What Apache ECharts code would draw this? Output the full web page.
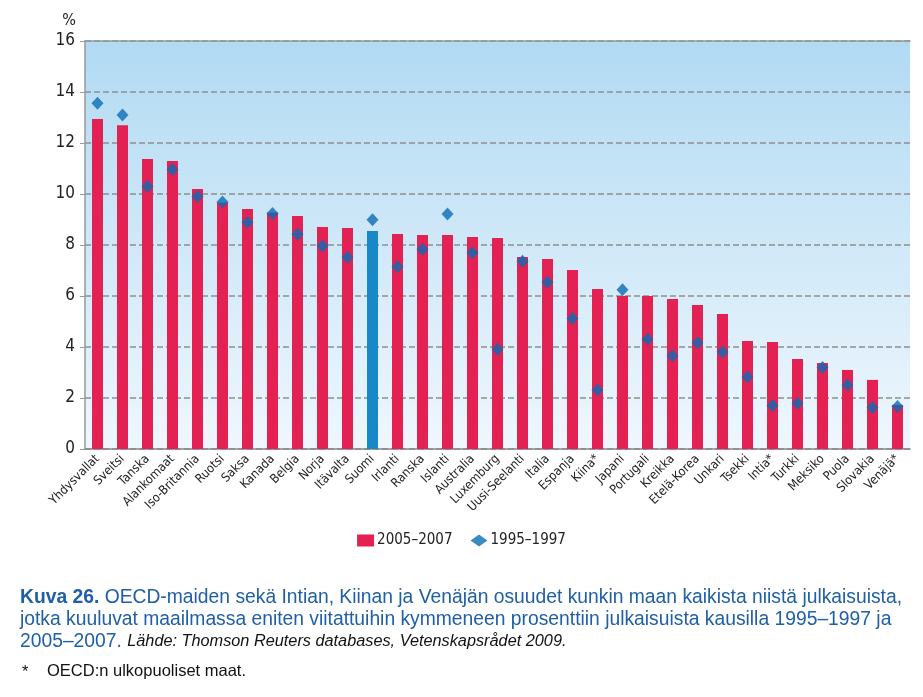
<!DOCTYPE html>
<html>
<head>
<meta charset="utf-8">
<script src="https://cdn.jsdelivr.net/npm/echarts@6/dist/echarts.min.js"></script>
<style>
html,body{margin:0;padding:0;background:#fff;}
#c{width:923px;height:697px;}
</style>
</head>
<body>
<div id="c"></div>
<script>
const categories = ["Yhdysvallat","Sveitsi","Tanska","Alankomaat","Iso-Britannia","Ruotsi","Saksa","Kanada","Belgia","Norja","Itävalta","Suomi","Irlanti","Ranska","Islanti","Australia","Luxemburg","Uusi-Seelanti","Italia","Espanja","Kiina*","Japani","Portugali","Kreikka","Etelä-Korea","Unkari","Tsekki","Intia*","Turkki","Meksiko","Puola","Slovakia","Venäjä*"];
const values2005 = [12.94,12.7,11.37,11.29,10.2,9.67,9.41,9.27,9.14,8.71,8.67,8.55,8.43,8.39,8.39,8.31,8.27,7.53,7.45,7.02,6.27,6.0,6.0,5.88,5.65,5.29,4.24,4.2,3.53,3.37,3.1,2.71,1.73];
const values1995 = [13.56,13.1,10.29,10.96,9.9,9.69,8.89,9.24,8.42,7.96,7.52,8.99,7.15,7.83,9.22,7.7,3.91,7.36,6.54,5.12,2.31,6.25,4.3,3.66,4.17,3.8,2.82,1.71,1.79,3.2,2.51,1.63,1.67];
const yTicks = [0,2,4,6,8,10,12,14,16];
const highlight = "Suomi";

const chart = echarts.init(document.getElementById('c'));
const narrow = "'Liberation Sans Narrow','DejaVu Sans Condensed',sans-serif";
const capFont = "'Liberation Sans',Arial,sans-serif";
const blue = '#1f5fa6';

chart.setOption({
  animation: false,
  grid: {
    left: 85, right: 13, top: 41, bottom: 248,
    show: true,
    borderWidth: 0,
    backgroundColor: {type:'linear', x:0, y:0, x2:0, y2:1, colorStops:[{offset:0,color:'#b1daf3'},{offset:1,color:'#eff7fd'}]}
  },
  legend: {
    top: 528, left: 'center',
    itemGap: 18,
    itemWidth: 17, itemHeight: 12,
    textStyle: {fontFamily: narrow, fontSize: 15, color: '#222', padding: [0,0,0,-2]},
    data: [
      {name: '2005–2007', icon: 'rect'},
      {name: '1995–1997', icon: 'diamond', itemStyle:{color:'#0b6db4'}}
    ]
  },
  xAxis: [{
    type: 'category',
    data: categories,
    axisLine: {lineStyle: {color: '#888', width: 1.5}},
    axisTick: {lineStyle: {color: '#222', width: 1.5}, length: 6},
    axisLabel: {
      interval: 0, rotate: 45, margin: 8,
      fontFamily: narrow, fontSize: 12.5, color: '#222'
    }
  }, {
    type: 'category', position: 'top',
    data: categories,
    axisLine: {show: true, lineStyle: {color: '#999', width: 1.5}},
    axisTick: {show: false}, axisLabel: {show: false}, splitLine: {show: false}
  }],
  yAxis: {
    type: 'value', min: 0, max: 16, interval: 2,
    name: '%', nameLocation: 'end', nameGap: 12,
    nameTextStyle: {fontFamily: narrow, fontSize: 16, color: '#222', align: 'right', padding: [0, 9, 0, 0]},
    axisLine: {show: true, lineStyle: {color: '#999', width: 1.5}},
    axisTick: {show: true, lineStyle: {color: '#999'}, length: 5},
    axisLabel: {fontFamily: narrow, fontSize: 17, color: '#222', margin: 10,
      formatter: v => yTicks.includes(v) ? String(v) : ''},
    splitLine: {show: true, lineStyle: {color: '#8e8e8e', type: [6,3], width: 1.5}}
  },
  series: [
    {
      name: '2005–2007', type: 'bar', barWidth: 11,
      itemStyle: {color: '#e32152'},
      data: values2005.map((v,i) => categories[i] === highlight ? {value: v, itemStyle: {color: '#1888c7'}} : v)
    },
    {
      name: '1995–1997', type: 'scatter', symbol: 'diamond', symbolSize: [12,13],
      itemStyle: {color: '#0b6db4'},
      data: values1995, z: 3
    }
  ],
  graphic: [
    {type:'text', left: 20, top: 588, style:{
      text: '{b|Kuva 26.} OECD-maiden sekä Intian, Kiinan ja Venäjän osuudet kunkin maan kaikista niistä julkaisuista,',
      font: '19.3px ' + capFont, fill: blue,
      rich: {b: {fontWeight: 'bold', fontSize: 19.3, fontFamily: capFont, fill: blue}}
    }},
    {type:'text', left: 20, top: 610, style:{
      text: 'jotka kuuluvat maailmassa eniten viitattuihin kymmeneen prosenttiin julkaisuista kausilla 1995–1997 ja',
      font: '19.3px ' + capFont, fill: blue
    }},
    {type:'text', left: 20, top: 632, style:{
      text: '2005–2007. {i|Lähde: Thomson Reuters databases, Vetenskapsrådet 2009.}',
      font: '19.3px ' + capFont, fill: blue,
      rich: {i: {fontStyle: 'italic', fontSize: 16.3, fontFamily: capFont, fill: '#111'}}
    }},
    {type:'text', left: 22, top: 664, style:{
      text: '*', font: '16.5px ' + capFont, fill: '#111'
    }},
    {type:'text', left: 47, top: 663, style:{
      text: 'OECD:n ulkopuoliset maat.', font: '16.5px ' + capFont, fill: '#111'
    }}
  ]
});
</script>
</body>
</html>
